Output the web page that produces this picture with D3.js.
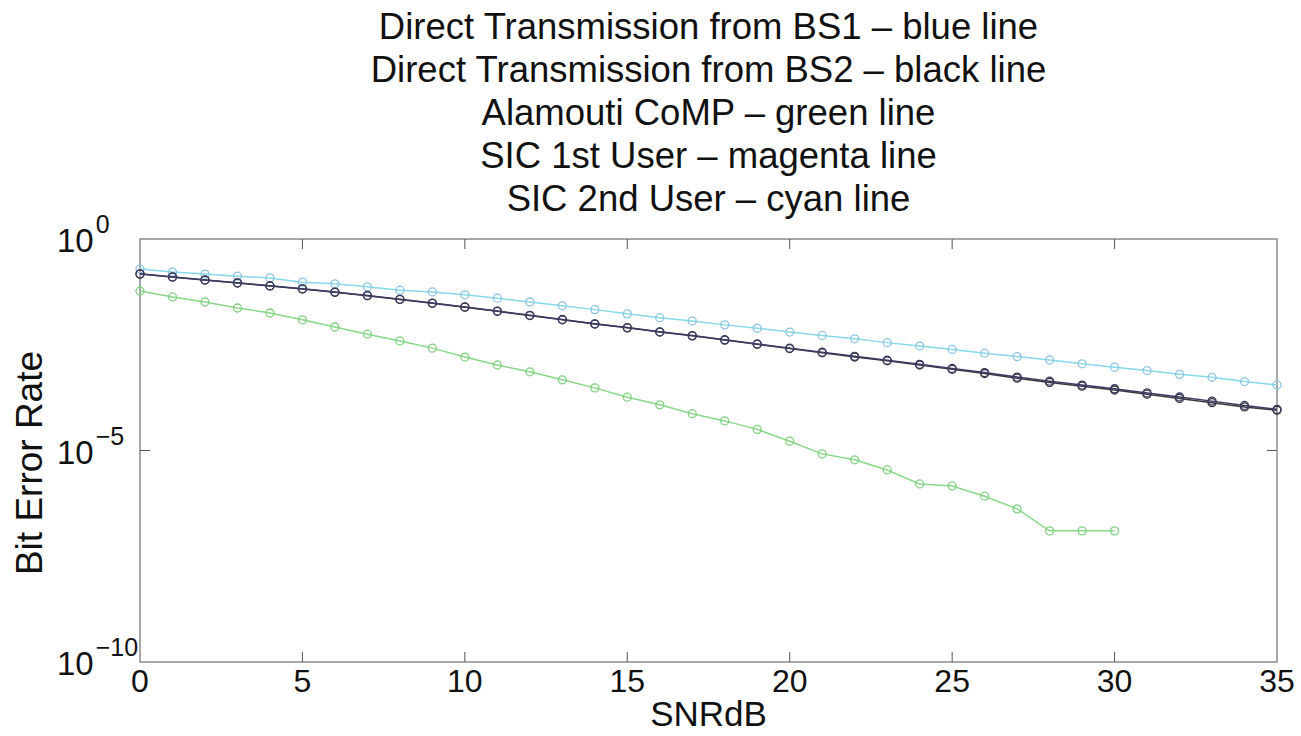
<!DOCTYPE html>
<html>
<head>
<meta charset="utf-8">
<script src="https://cdn.jsdelivr.net/npm/d3@7"></script>
<style>
  body { margin: 0; background: #fff; }
  text { font-family: "Liberation Sans", Arial, sans-serif; fill: #111; }
</style>
</head>
<body>
<script>
// SNR in dB, one point per dB
const snr = d3.range(0, 36);
const snrGreen = d3.range(0, 31);

const titleLines = [
  "Direct Transmission from BS1 \u2013 blue line",
  "Direct Transmission from BS2 \u2013 black line",
  "Alamouti CoMP \u2013 green line",
  "SIC 1st User \u2013 magenta line",
  "SIC 2nd User \u2013 cyan line"
];

const xTicks = [0, 5, 10, 15, 20, 25, 30, 35];
const yTicks = [0, -5, -10];   // exponents of 10

// bit error rates
const berSIC2 = [1.95e-1, 1.66e-1, 1.48e-1, 1.32e-1, 1.20e-1, 9.55e-2, 8.71e-2, 7.41e-2, 6.17e-2, 5.62e-2,
  4.79e-2, 3.98e-2, 3.24e-2, 2.63e-2, 2.14e-2, 1.70e-2, 1.38e-2, 1.15e-2, 9.33e-3, 7.76e-3,
  6.31e-3, 5.25e-3, 4.37e-3, 3.55e-3, 2.95e-3, 2.45e-3, 2.00e-3, 1.66e-3, 1.38e-3, 1.12e-3,
  9.33e-4, 7.76e-4, 6.31e-4, 5.37e-4, 4.27e-4, 3.55e-4];

const berBS2 = [1.48e-1, 1.26e-1, 1.07e-1, 9.12e-2, 7.76e-2, 6.61e-2, 5.50e-2, 4.57e-2, 3.72e-2, 3.02e-2,
  2.45e-2, 1.95e-2, 1.55e-2, 1.23e-2, 9.77e-3, 7.94e-3, 6.31e-3, 5.13e-3, 4.07e-3, 3.24e-3,
  2.57e-3, 2.04e-3, 1.62e-3, 1.32e-3, 1.05e-3, 8.32e-4, 6.61e-4, 5.13e-4, 4.07e-4, 3.31e-4,
  2.69e-4, 2.14e-4, 1.70e-4, 1.35e-4, 1.07e-4, 8.91e-5];

const berBS1 = [1.50e-1, 1.27e-1, 1.08e-1, 9.20e-2, 7.85e-2, 6.65e-2, 5.55e-2, 4.62e-2, 3.75e-2, 3.05e-2,
  2.48e-2, 1.98e-2, 1.57e-2, 1.25e-2, 9.90e-3, 8.05e-3, 6.40e-3, 5.20e-3, 4.15e-3, 3.30e-3,
  2.62e-3, 2.10e-3, 1.68e-3, 1.36e-3, 1.09e-3, 8.70e-4, 6.95e-4, 5.45e-4, 4.35e-4, 3.52e-4,
  2.88e-4, 2.30e-4, 1.84e-4, 1.47e-4, 1.16e-4, 9.40e-5];

const berAlamouti = [5.89e-2, 4.27e-2, 3.24e-2, 2.34e-2, 1.78e-2, 1.23e-2, 8.32e-3, 5.62e-3, 3.89e-3, 2.63e-3,
  1.62e-3, 1.05e-3, 7.24e-4, 4.68e-4, 3.02e-4, 1.82e-4, 1.20e-4, 7.41e-5, 5.01e-5, 3.16e-5,
  1.66e-5, 8.32e-6, 6.03e-6, 3.47e-6, 1.62e-6, 1.45e-6, 8.32e-7, 4.17e-7, 1.26e-7, 1.26e-7,
  1.26e-7];

const width = 1301, height = 736;
const margin = {top: 239, right: 24, bottom: 74, left: 140};

const svg = d3.select("body").append("svg")
    .attr("width", width)
    .attr("height", height);

const x = d3.scaleLinear()
    .domain([0, 35])
    .range([margin.left, width - margin.right]);

const y = d3.scaleLog()
    .domain([1e-10, 1])
    .range([height - margin.bottom, margin.top]);

// title
svg.append("g")
    .attr("font-size", 36.5)
    .attr("text-anchor", "middle")
  .selectAll("text")
  .data(titleLines)
  .join("text")
    .attr("x", (x(0) + x(35)) / 2)
    .attr("y", (d, i) => 39 + i * 43)
    .text(d => d);

// box
svg.append("rect")
    .attr("x", x(0))
    .attr("y", y(1))
    .attr("width", x(35) - x(0))
    .attr("height", y(1e-10) - y(1))
    .attr("fill", "none")
    .attr("stroke", "#8c8c8c")
    .attr("stroke-width", 1.5);

// inside ticks, both sides like matlab
const tk = 10;
const tg = svg.append("g").attr("stroke", "#555").attr("stroke-width", 1);
tg.selectAll(".xb").data(xTicks.slice(1, -1)).join("line")
    .attr("class", "xb")
    .attr("x1", d => x(d)).attr("x2", d => x(d))
    .attr("y1", y(1e-10)).attr("y2", y(1e-10) - tk);
tg.selectAll(".xt").data(xTicks.slice(1, -1)).join("line")
    .attr("class", "xt")
    .attr("x1", d => x(d)).attr("x2", d => x(d))
    .attr("y1", y(1)).attr("y2", y(1) + tk);
tg.selectAll(".yl").data([-5]).join("line")
    .attr("class", "yl")
    .attr("x1", x(0)).attr("x2", x(0) + tk)
    .attr("y1", d => y(10 ** d)).attr("y2", d => y(10 ** d));
tg.selectAll(".yr").data([-5]).join("line")
    .attr("class", "yr")
    .attr("x1", x(35)).attr("x2", x(35) - tk)
    .attr("y1", d => y(10 ** d)).attr("y2", d => y(10 ** d));

// x tick labels
svg.append("g")
    .attr("font-size", 32)
    .attr("text-anchor", "middle")
  .selectAll("text")
  .data(xTicks)
  .join("text")
    .attr("x", d => x(d))
    .attr("y", y(1e-10) + 30)
    .text(d => d);

// y tick labels 10^n, the "10" parts line up on the left
const yl = svg.append("g")
    .attr("font-size", 33)
    .attr("text-anchor", "start")
  .selectAll("text")
  .data(yTicks)
  .join("text")
    .attr("x", 57)
    .attr("y", d => y(10 ** d) + 13);
yl.append("tspan").text("10");
yl.append("tspan")
    .attr("font-size", 25)
    .attr("dx", 2)
    .attr("dy", -19)
    .text(d => d === 0 ? "0" : "\u2212" + (-d));

// axis titles
svg.append("text")
    .attr("font-size", 35)
    .attr("text-anchor", "middle")
    .attr("x", (x(0) + x(35)) / 2)
    .attr("y", 726)
    .text("SNRdB");

svg.append("text")
    .attr("font-size", 37)
    .attr("text-anchor", "middle")
    .attr("transform", `translate(42,463) rotate(-90)`)
    .text("Bit Error Rate");

// series
const series = [
  {name: "SIC 2nd User", xs: snr, ys: berSIC2, color: "#86d9ea", mark: "#8fc4e2"},
  {name: "BS2", xs: snr, ys: berBS2, color: "#3a3a3a", mark: "#333"},
  {name: "BS1", xs: snr, ys: berBS1, color: "#3b3b66", mark: "#3b3b66"},
  {name: "Alamouti", xs: snrGreen, ys: berAlamouti, color: "#88d888", mark: "#80d080"}
];

const line = d3.line()
    .x(d => x(d[0]))
    .y(d => y(d[1]));

for (const s of series) {
  const pts = s.xs.map((v, i) => [v, s.ys[i]]);
  svg.append("path")
      .datum(pts)
      .attr("fill", "none")
      .attr("stroke", s.color)
      .attr("stroke-width", 1.5)
      .attr("d", line);
  svg.append("g")
      .attr("fill", "none")
      .attr("stroke", s.mark)
      .attr("stroke-width", 1.3)
    .selectAll("circle")
    .data(pts)
    .join("circle")
      .attr("cx", d => x(d[0]))
      .attr("cy", d => y(d[1]))
      .attr("r", 4);
}
</script>
</body>
</html>
